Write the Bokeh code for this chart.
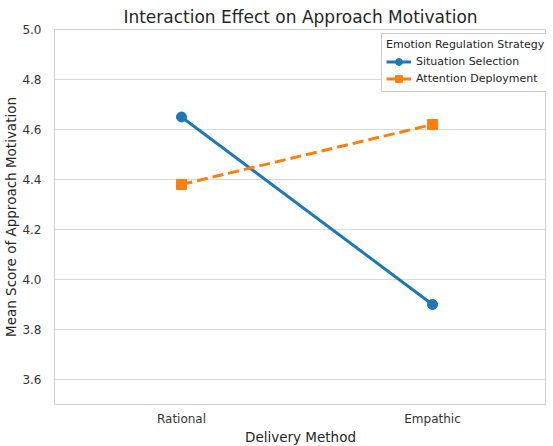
from bokeh.plotting import figure
from bokeh.models import FixedTicker, Range1d, ColumnDataSource, Legend, LegendItem, PrintfTickFormatter
from bokeh.embed import file_html
from bokeh.resources import INLINE

categories = ["Rational", "Empathic"]
situation_selection = [4.65, 3.90]
attention_deployment = [4.38, 4.62]
y_ticks = [3.6, 3.8, 4.0, 4.2, 4.4, 4.6, 4.8, 5.0]

xpos = list(range(len(categories)))
FONT = "DejaVu Sans"

p = figure(frame_width=492, frame_height=375, output_backend="svg", toolbar_location=None,
           x_range=Range1d(-0.506, 1.454), y_range=Range1d(3.5, 5.0),
           min_border_left=45, min_border_right=0, min_border_top=29, min_border_bottom=38)
p.title.text = "Interaction Effect on Approach Motivation"
p.title.text_font = FONT
p.title.text_font_size = "17px"
p.title.text_font_style = "normal"
p.title.align = "center"
p.title.text_color = "#262626"
p.title.standoff = 6
p.title.offset = 0

p.outline_line_color = "#d0d0d0"
p.outline_line_width = 1
p.background_fill_color = "white"
p.border_fill_color = "white"

p.xaxis.ticker = FixedTicker(ticks=xpos)
p.xaxis.major_label_overrides = {i: c for i, c in enumerate(categories)}
p.yaxis.ticker = FixedTicker(ticks=y_ticks)
p.yaxis.formatter = PrintfTickFormatter(format="%.1f")
for ax in (p.xaxis, p.yaxis):
    ax.axis_line_color = "#d0d0d0"
    ax.major_tick_line_color = None
    ax.minor_tick_line_color = None
    ax.major_label_text_font = FONT
    ax.major_label_text_font_size = "12px"
    ax.major_label_text_color = "#333333"
    ax.axis_label_text_font = FONT
    ax.axis_label_text_font_size = "13.5px"
    ax.axis_label_text_font_style = "normal"
    ax.axis_label_text_color = "#262626"
p.yaxis.major_label_standoff = 7
p.xaxis.major_label_standoff = 1
p.xaxis.axis_label = "Delivery Method"
p.yaxis.axis_label = "Mean Score of Approach Motivation"
p.xaxis.axis_label_standoff = 0
p.yaxis.axis_label_standoff = 0

p.xgrid.grid_line_color = None
p.ygrid.grid_line_color = "#d9d9d9"
p.ygrid.grid_line_width = 1

src = ColumnDataSource(dict(x=xpos, ss=situation_selection, ad=attention_deployment))
l1 = p.line("x", "ss", source=src, line_color="#1f77b4", line_width=3)
m1 = p.scatter("x", "ss", source=src, marker="circle", size=10,
               fill_color="#1f77b4", line_color="#1f77b4")
l2 = p.line("x", "ad", source=src, line_color="#ff7f0e", line_width=3, line_dash="11 5")
m2 = p.scatter("x", "ad", source=src, marker="square", size=10,
               fill_color="#ff7f0e", line_color="#ff7f0e")

legend = Legend(items=[LegendItem(label="Situation Selection", renderers=[l1, m1]),
                       LegendItem(label="Attention Deployment", renderers=[l2, m2])],
                location=(327, 312))
legend.title = "Emotion Regulation Strategy"
legend.title_text_font = FONT
legend.title_text_font_size = "11px"
legend.title_text_font_style = "normal"
legend.title_text_color = "#262626"
legend.label_text_font = FONT
legend.label_text_font_size = "11px"
legend.label_text_color = "#262626"
legend.border_line_color = "#cccccc"
legend.border_line_alpha = 1
legend.background_fill_alpha = 0.9
legend.glyph_width = 25
legend.glyph_height = 17
legend.label_height = 17
legend.spacing = 0
legend.padding = 4
legend.margin = 0
legend.title_standoff = 2
p.add_layout(legend)

open("out.html", "w").write(file_html(p, INLINE))
